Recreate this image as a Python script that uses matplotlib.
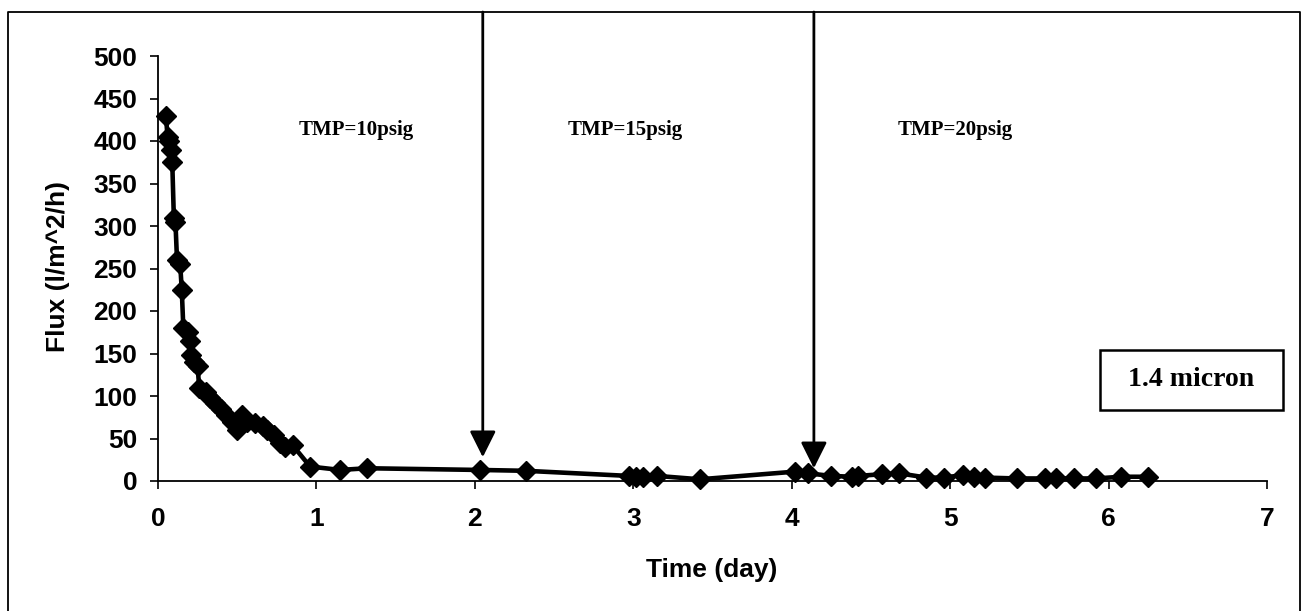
import matplotlib
matplotlib.use("Agg")
import matplotlib.pyplot as plt
from matplotlib.lines import Line2D
from matplotlib.patches import Rectangle

# Flux decline over time, 1.4 micron membrane
time_day = [0.05, 0.06, 0.07, 0.08, 0.09, 0.10, 0.11, 0.12, 0.14, 0.15,
            0.16, 0.19, 0.20, 0.21, 0.23, 0.25, 0.26, 0.30, 0.33, 0.36,
            0.40, 0.43, 0.47, 0.50, 0.53, 0.56, 0.61, 0.66, 0.69, 0.73,
            0.77, 0.80, 0.85, 0.96, 1.15, 1.32, 2.03, 2.32, 2.97, 3.02,
            3.06, 3.15, 3.42, 4.02, 4.10, 4.25, 4.38, 4.42, 4.57, 4.68,
            4.85, 4.96, 5.08, 5.15, 5.22, 5.42, 5.60, 5.67, 5.78, 5.92,
            6.08, 6.25]
flux = [430, 405, 400, 390, 375, 310, 305, 260, 255, 225,
        180, 175, 165, 148, 140, 135, 110, 105, 98, 92,
        85, 78, 70, 60, 78, 70, 68, 65, 60, 54,
        45, 40, 42, 17, 13, 15, 13, 12, 6, 5,
        5, 6, 2, 11, 9, 6, 5, 6, 8, 9,
        4, 4, 7, 5, 4, 3, 3, 3, 3, 3,
        5, 5]

tmp_labels = ["TMP=10psig", "TMP=15psig", "TMP=20psig"]
tmp_label_x = [1.25, 2.95, 5.03]
switch_x = [2.05, 4.14]
switch_tip = [28, 15]

W, H = 1302, 611
fig = plt.figure(figsize=(W / 100, H / 100), dpi=100)
ax = fig.add_axes([158 / W, 1 - 481 / H, (1267 - 158) / W, (481 - 56) / H])

ax.plot(time_day, flux, color="black", lw=3.3, marker="D", ms=10,
        mfc="black", mec="black", clip_on=False, zorder=3)

ax.set_xlim(0, 7)
ax.set_ylim(0, 500)
ax.set_xticks(range(8))
ax.set_yticks(range(0, 501, 50))
for side in ("top", "right"):
    ax.spines[side].set_visible(False)
for side in ("left", "bottom"):
    ax.spines[side].set_linewidth(1.3)

tick_font = dict(family="Liberation Sans", weight="bold", size=19)
ax.tick_params(axis="both", direction="out", length=6, width=1.2)
ax.tick_params(axis="x", pad=13)
ax.tick_params(axis="y", pad=9)
for lab in ax.get_xticklabels() + ax.get_yticklabels():
    lab.set_fontproperties(tick_font)

fig.text(58 / W, 1 - 266 / H, "Flux (l/m^2/h)", rotation=90,
         ha="center", va="center", **tick_font)
fig.text(712 / W, 1 - 570 / H, "Time (day)", ha="center", va="center",
         **tick_font)

serif = dict(family="Liberation Serif", weight="bold")
for label, x in zip(tmp_labels, tmp_label_x):
    ax.text(x, 413, label, ha="center", va="center", size=15, **serif)

# arrows marking the pressure steps, starting at the outer frame
for x, tip in zip(switch_x, switch_tip):
    ax.annotate("", xy=(x, tip), xytext=(x, 1 - 12 / H),
                xycoords="data", textcoords=("data", "figure fraction"),
                arrowprops=dict(arrowstyle="-|>,head_length=1.6,head_width=0.8",
                                mutation_scale=10, lw=2, color="black",
                                shrinkA=0, shrinkB=0))

# membrane label box
fig.add_artist(Rectangle((1100 / W, 1 - 410 / H), 183 / W, 60 / H,
                         transform=fig.transFigure, fill=False,
                         lw=1.8, ec="black"))
fig.text(1191 / W, 1 - 379 / H, "1.4 micron", ha="center", va="center",
         size=20, **serif)

# outer chart frame
fl, ft, fr = 8 / W, 1 - 12 / H, 1300 / W
fig.add_artist(Line2D([fl, fl, fr, fr], [0, ft, ft, 0],
                      transform=fig.transFigure, color="black", lw=1.3))

fig.savefig("out.png", dpi=100)
